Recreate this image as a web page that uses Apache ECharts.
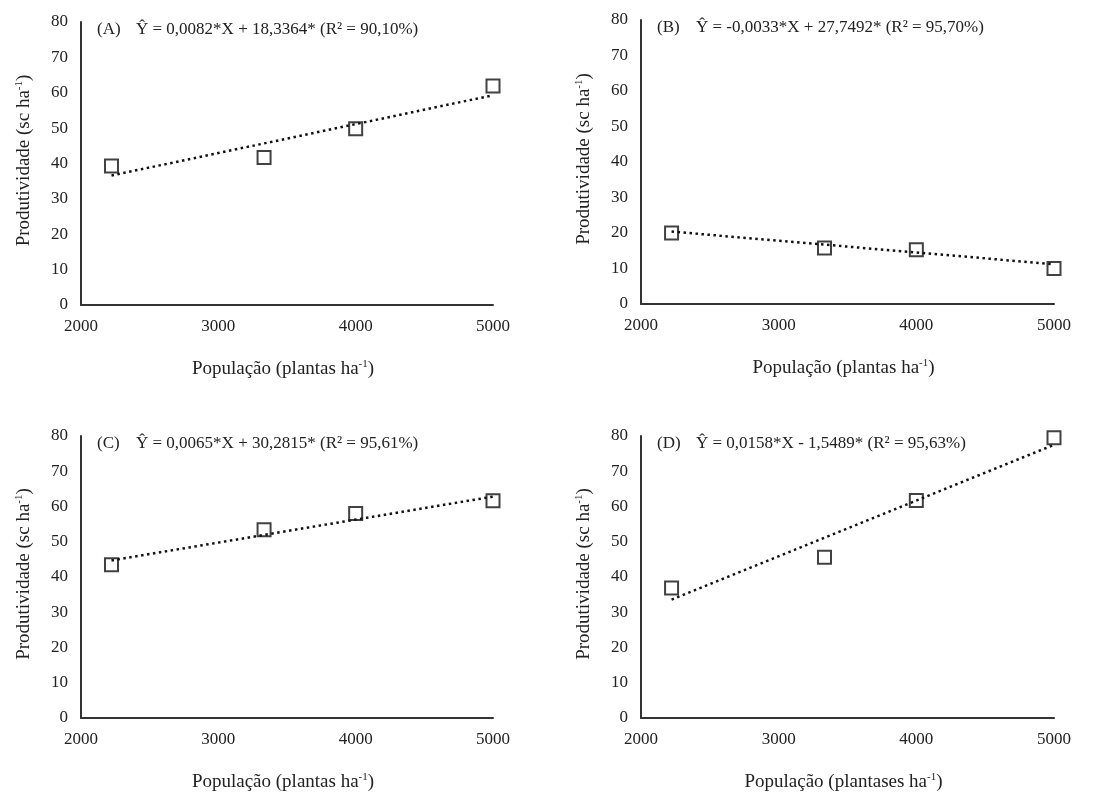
<!DOCTYPE html>
<html><head><meta charset="utf-8">
<script src="https://cdn.jsdelivr.net/npm/echarts@6/dist/echarts.min.js"></script>
<style>html,body{margin:0;padding:0;background:#fff}#c{width:1098px;height:793px}</style>
</head><body><div id="c"></div>
<script>
const population = [2222, 3333, 4000, 5000];
const prodA = [39.3, 41.7, 49.8, 61.9];
const prodB = [20.0, 15.8, 15.3, 10.0];
const prodC = [43.5, 53.4, 58.0, 61.6];
const prodD = [36.9, 45.6, 61.7, 79.5];
const trendX = [2222, 5000];
const trendA = [36.6, 59.3];
const trendB = [20.4, 11.2];
const trendC = [44.7, 62.8];
const trendD = [33.6, 77.5];
const panelLetters = ['(A)', '(B)', '(C)', '(D)'];
const equations = [
  'Ŷ = 0,0082*X + 18,3364* (R² = 90,10%)',
  'Ŷ = -0,0033*X + 27,7492* (R² = 95,70%)',
  'Ŷ = 0,0065*X + 30,2815* (R² = 95,61%)',
  'Ŷ = 0,0158*X - 1,5489* (R² = 95,63%)'
];
const xTitles = ['plantas', 'plantas', 'plantas', 'plantases'];
const yTitle = 'Produtividade (sc ha';

const FONT = '"Liberation Serif", "Times New Roman", serif';
const TXT = '#222';
const grids = [
  {left: 81, top: 22, width: 412, height: 283},
  {left: 641, top: 20, width: 413, height: 284},
  {left: 81, top: 436, width: 412, height: 285},
  {left: 641, top: 436, width: 413, height: 285}
];
const prods = [prodA, prodB, prodC, prodD];
const trends = [trendA, trendB, trendC, trendD];

const richBase = {
  a: {fontFamily: FONT, fontSize: 19, color: TXT},
  s: {fontFamily: FONT, fontSize: 11, color: TXT, padding: [0, 0, 10, 0]}
};

const option = {
  backgroundColor: '#fff',
  animation: false,
  grid: grids.map(g => Object.assign({containLabel: false}, g)),
  xAxis: grids.map((g, i) => ({
    gridIndex: i, type: 'value', min: 2000, max: 5000, interval: 1000,
    name: '{a|População (' + xTitles[i] + ' ha}{s|-1}{a|)}',
    nameLocation: 'middle', nameGap: 54,
    nameTextStyle: {rich: richBase, padding: [0, 8, 0, 0]},
    axisLine: {show: true, lineStyle: {color: '#333', width: 2}},
    axisTick: {show: false}, splitLine: {show: false},
    axisLabel: {fontFamily: FONT, fontSize: 17, color: TXT, margin: 13, formatter: v => String(v)}
  })),
  yAxis: grids.map((g, i) => ({
    gridIndex: i, type: 'value', min: 0, max: 80, interval: 10,
    name: '{a|' + yTitle + '}{s|-1}{a|)}',
    nameLocation: 'middle', nameGap: 46, nameRotate: 90,
    nameTextStyle: {rich: richBase, padding: [0, 0, 0, 6]},
    axisLine: {show: true, lineStyle: {color: '#333', width: 2}},
    axisTick: {show: false}, splitLine: {show: false},
    axisLabel: {fontFamily: FONT, fontSize: 17, color: TXT, margin: 13, formatter: v => String(v)}
  })),
  title: grids.flatMap((g, i) => [
    {text: panelLetters[i], left: g.left + 11, top: g.top - 6,
     textStyle: {fontFamily: FONT, fontSize: 17, fontWeight: 'normal', color: TXT}},
    {text: equations[i], left: g.left + 50, top: g.top - 6,
     textStyle: {fontFamily: FONT, fontSize: 17, fontWeight: 'normal', color: TXT}}
  ]),
  series: grids.flatMap((g, i) => [
    {type: 'line', xAxisIndex: i, yAxisIndex: i, symbol: 'none', z: 2,
     data: trendX.map((x, k) => [x, trends[i][k]]),
     lineStyle: {color: '#111', width: 2.5, type: [2.5, 3.5]}},
    {type: 'scatter', xAxisIndex: i, yAxisIndex: i, symbol: 'rect', symbolSize: 13, z: 3,
     data: population.map((x, k) => [x, prods[i][k]]),
     itemStyle: {color: 'rgba(255,255,255,0)', borderColor: '#111', borderWidth: 2}}
  ])
};
const chart = echarts.init(document.getElementById('c'), null, {renderer: 'canvas'});
chart.setOption(option);
</script></body></html>
